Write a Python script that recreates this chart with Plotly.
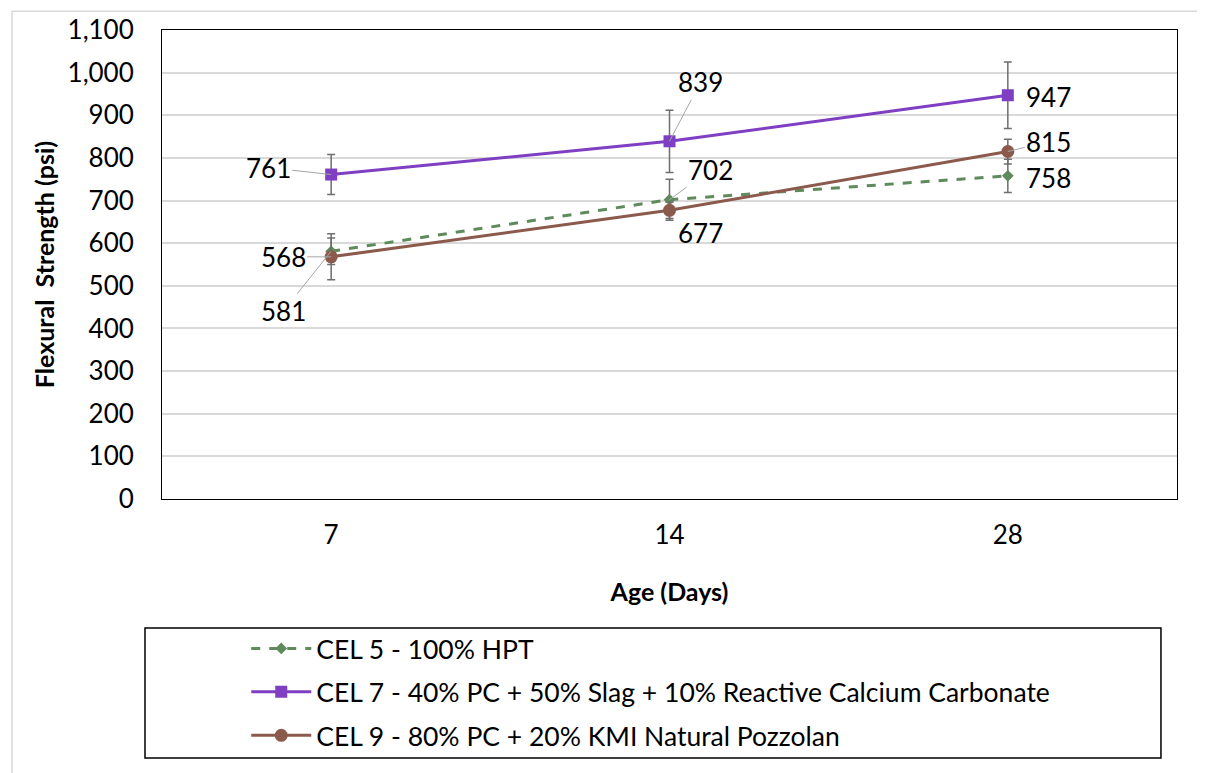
import plotly.graph_objects as go

ages = ["7", "14", "28"]
cel5 = [581, 702, 758]
cel5_err = [31, 48, 39]
cel7 = [761, 839, 947]
cel7_err = [47, 73, 78]
cel9 = [568, 677, 815]
cel9_err = [54, 19, 29]

names = ["CEL 5 - 100% HPT",
         "CEL 7 - 40% PC + 50% Slag + 10% Reactive Calcium Carbonate",
         "CEL 9 - 80% PC + 20% KMI Natural Pozzolan"]

GREEN = "#5E8A5C"
PURPLE = "#7E3FC2"
BROWN = "#8C5A4C"
ERR = "#6E6E6E"
FONT = "Lato"
FS = 26

def eb(arr):
    return dict(type="data", array=arr, visible=True, color=ERR, thickness=1.5, width=4)

fig = go.Figure()
fig.add_trace(go.Scatter(x=ages, y=cel5, name=names[0], mode="lines+markers",
                         line=dict(color=GREEN, width=3, dash="dash"),
                         marker=dict(symbol="diamond", size=9, color=GREEN),
                         error_y=eb(cel5_err), legendgroup="a"))
fig.add_trace(go.Scatter(x=ages, y=cel7, name=names[1], mode="lines+markers",
                         line=dict(color=PURPLE, width=3),
                         marker=dict(symbol="square", size=12, color=PURPLE),
                         error_y=eb(cel7_err), legendgroup="b"))
fig.add_trace(go.Scatter(x=ages, y=cel9, name=names[2], mode="lines+markers",
                         line=dict(color=BROWN, width=3),
                         marker=dict(symbol="circle", size=13, color=BROWN),
                         error_y=eb(cel9_err), legendgroup="c"))

# data labels: (series, index, ax, ay, show leader)
labels = [
    (cel7, 0, -63, -7, True),
    (cel9, 0, -48, 0, True),
    (cel5, 0, -48, 60, True),
    (cel7, 1, 31, -59, True),
    (cel5, 1, 41, -30, True),
    (cel9, 1, 31, 23, False),
    (cel7, 2, 41, 2, False),
    (cel9, 2, 41, -10, True),
    (cel5, 2, 41, 2, False),
]
for series, i, ax, ay, leader in labels:
    fig.add_annotation(x=i, y=series[i], xref="x", yref="y", text=str(series[i]),
                       showarrow=True, ax=ax, ay=ay, axref="pixel", ayref="pixel",
                       arrowhead=0, arrowwidth=1,
                       arrowcolor="#A6A6A6" if leader else "rgba(0,0,0,0)",
                       font=dict(family=FONT, size=FS, color="black"))

# outer chart border and legend box
fig.add_shape(type="rect", xref="paper", yref="paper", x0=-0.1478, x1=1.0246,
              y0=-0.62, y1=1.04, line=dict(color="#D9D9D9", width=1.5), layer="below")
fig.add_shape(type="rect", xref="paper", yref="paper", x0=-0.01675, x1=0.9842,
              y0=-0.5522, y1=-0.275, line=dict(color="black", width=1.5))

fig.update_layout(
    width=1197, height=765, autosize=False,
    margin=dict(l=154, r=28, t=22, b=274, autoexpand=False),
    paper_bgcolor="white", plot_bgcolor="white",
    font=dict(family=FONT, size=FS, color="black"),
    showlegend=True,
    legend=dict(x=0.083, y=-0.268, xanchor="left", yanchor="top",
                font=dict(family=FONT, size=26.5, color="black"),
                bgcolor="rgba(0,0,0,0)", borderwidth=0, tracegroupgap=6,
                itemwidth=60),
    xaxis=dict(type="category", range=[-0.5, 2.5], showgrid=False, showline=True,
               linecolor="black", linewidth=1, mirror=True, ticks="",
               ticklabelstandoff=13,
               title=dict(text="<b>Age (Days)</b>", font=dict(size=25), standoff=34),
               automargin=False),
    yaxis=dict(range=[0, 1100], dtick=100, tickformat=",", showgrid=True,
               gridcolor="#D9D9D9", gridwidth=1.5, showline=True, linecolor="black",
               linewidth=1, mirror=True, ticks="", ticklabelstandoff=22, zeroline=False,
               title=dict(text="<b>Flexural  Strength (psi)</b>", font=dict(size=25), standoff=5),
               automargin=False),
)

fig.write_html("out.html")
